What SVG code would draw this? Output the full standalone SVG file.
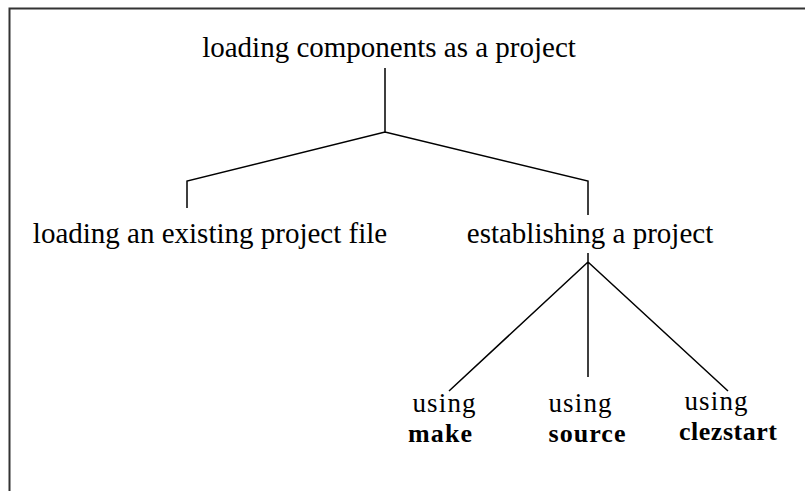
<svg xmlns="http://www.w3.org/2000/svg" width="805" height="491" viewBox="0 0 805 491">
<style>
.t{font-family:"Liberation Serif","Times New Roman",serif;font-size:29px;fill:#000;text-anchor:middle}
.u{font-family:"Liberation Serif","Times New Roman",serif;font-size:27px;fill:#000;text-anchor:middle}
.b{font-family:"Liberation Serif","Times New Roman",serif;font-size:26px;font-weight:bold;fill:#000;text-anchor:middle}
.c{fill:none;stroke:#000;stroke-width:1.5}
</style>
<rect width="805" height="491" fill="#fff"/>
<path d="M9.5,491 V8.5 H805" fill="none" stroke="#333" stroke-width="2"/>
<g id="connectors">
<path class="c" d="M385,68 V132 M187,208 V181 L385,132 L588,181 V215"/>
<path class="c" d="M588,253 V377 M588,262 L449,391 M588,262 L728,391"/>
</g>
<g id="root"><text class="t" x="389" y="57">loading components as a project</text></g>
<g id="existing"><text class="t" x="210" y="243">loading an existing project file</text></g>
<g id="establishing"><text class="t" x="590" y="243">establishing a project</text></g>
<g id="make"><text class="u" x="444" y="412" textLength="63">using</text><text class="b" x="440" y="442" textLength="64">make</text></g>
<g id="source"><text class="u" x="580" y="412" textLength="63">using</text><text class="b" x="587" y="442" textLength="77">source</text></g>
<g id="clezstart"><text class="u" x="716" y="410" textLength="63">using</text><text class="b" x="728" y="440" textLength="98">clezstart</text></g>
</svg>
